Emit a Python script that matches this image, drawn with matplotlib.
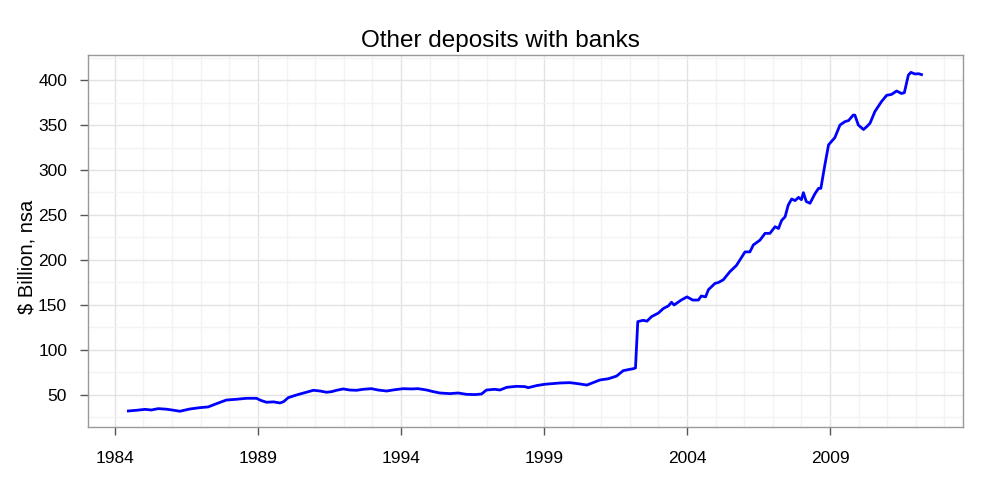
import matplotlib
matplotlib.use("Agg")
import matplotlib.pyplot as plt
from matplotlib.ticker import MultipleLocator

plt.rcParams['font.family'] = ['Liberation Sans', 'DejaVu Sans']

title = "Other deposits with banks"
ylabel = "$ Billion, nsa"

years = [
    1984.47, 1984.76, 1985.05, 1985.28, 1985.51, 1985.80, 1986.00, 1986.27, 1986.62, 1986.97,
    1987.26, 1987.55, 1987.90, 1988.25, 1988.60, 1988.95, 1989.10, 1989.30, 1989.55, 1989.77,
    1989.90, 1990.06, 1990.35, 1990.64, 1990.94, 1991.17, 1991.40, 1991.58, 1991.75, 1991.98,
    1992.21, 1992.45, 1992.68, 1992.97, 1993.20, 1993.50, 1993.80, 1994.08, 1994.37, 1994.60,
    1994.90, 1995.13, 1995.36, 1995.71, 1996.00, 1996.29, 1996.59, 1996.82, 1996.99, 1997.28,
    1997.46, 1997.70, 1998.04, 1998.33, 1998.45, 1998.74, 1999.03, 1999.30, 1999.56, 1999.90,
    2000.20, 2000.50, 2000.96, 2001.25, 2001.54, 2001.77, 2002.00, 2002.10, 2002.20, 2002.28,
    2002.47, 2002.60, 2002.76, 2003.00, 2003.17, 2003.35, 2003.46, 2003.55, 2003.80, 2004.00,
    2004.20, 2004.40, 2004.50, 2004.65, 2004.75, 2004.98, 2005.10, 2005.27, 2005.50, 2005.73,
    2006.03, 2006.20, 2006.32, 2006.55, 2006.73, 2006.90, 2007.08, 2007.20, 2007.31, 2007.43,
    2007.54, 2007.66, 2007.78, 2007.90, 2008.00, 2008.07, 2008.17, 2008.30, 2008.48, 2008.60,
    2008.68, 2008.82, 2008.95, 2009.17, 2009.35, 2009.52, 2009.65, 2009.81, 2009.87, 2009.99,
    2010.17, 2010.28, 2010.40, 2010.57, 2010.80, 2010.98, 2011.15, 2011.33, 2011.50, 2011.60,
    2011.74, 2011.83, 2011.97, 2012.10, 2012.20,
]
values = [
    32.2, 33.0, 34.0, 33.3, 34.8, 34.2, 33.3, 31.9, 34.4, 35.9,
    36.7, 40.3, 44.4, 45.2, 46.3, 46.3, 44.0, 41.9, 42.3, 41.1,
    42.6, 47.0, 50.0, 52.6, 55.2, 54.4, 53.0, 53.7, 55.2, 56.7,
    55.5, 55.2, 56.3, 57.0, 55.5, 54.4, 55.9, 57.0, 56.7, 57.0,
    55.5, 53.7, 52.2, 51.5, 52.2, 50.7, 50.4, 51.1, 55.5, 56.3,
    55.5, 58.5, 59.6, 59.3, 58.1, 60.4, 61.9, 62.6, 63.3, 63.7,
    62.5, 61.0, 66.7, 68.0, 71.0, 77.0, 78.5, 79.0, 80.0, 131.5,
    133.0, 132.0, 137.0, 141.0, 146.0, 149.0, 153.0, 150.0, 155.5, 159.0,
    155.5, 155.5, 160.0, 159.0, 167.0, 174.0, 175.0, 178.0, 187.0, 194.0,
    209.0, 209.0, 216.7, 222.0, 229.6, 229.6, 237.0, 235.0, 244.0, 248.0,
    261.0, 267.8, 266.0, 269.6, 267.0, 274.8, 265.0, 263.0, 274.0, 279.6,
    279.6, 305.5, 328.0, 336.0, 350.0, 353.7, 355.0, 361.0, 361.0, 350.0,
    345.0, 348.0, 352.0, 365.0, 376.0, 383.0, 384.0, 387.8, 385.0, 386.0,
    405.5, 408.5, 406.7, 407.0, 406.0,
]

fig = plt.figure(figsize=(10, 5), dpi=100)
ax = fig.add_axes([0.088, 0.146, 0.875, 0.744])

ax.plot(years, values, color='#0000FF', lw=2.0, zorder=3)

ax.set_xlim(1983.06, 2013.65)
ax.set_ylim(14.4, 427.8)
ax.xaxis.set_minor_locator(MultipleLocator(1))
ax.yaxis.set_minor_locator(MultipleLocator(25))
ax.set_xticks([1984, 1989, 1994, 1999, 2004, 2009])
ax.set_yticks([50, 100, 150, 200, 250, 300, 350, 400])

ax.grid(which='major', color='#e3e3e3', lw=1.0, zorder=0)
ax.grid(which='minor', color='#f3f3f3', lw=1.0, zorder=0)
ax.set_axisbelow(True)

for s in ax.spines.values():
    s.set_color('#999999')
    s.set_linewidth(1.0)

ax.tick_params(axis='both', which='major', direction='out', length=6, width=1,
               color='#555555', labelsize=12.5, labelcolor='black')
ax.tick_params(axis='x', which='major', pad=11)
ax.tick_params(axis='y', which='major', pad=9)
ax.tick_params(axis='both', which='minor', length=0)

fig.text(0.5, 1 - 41 / 500, title, ha='center', va='center', fontsize=17.5)
fig.text(0.027, 1 - 257 / 500, ylabel, rotation=90, ha='center', va='center',
         fontsize=14.5)

fig.savefig("out.png", dpi=100)
